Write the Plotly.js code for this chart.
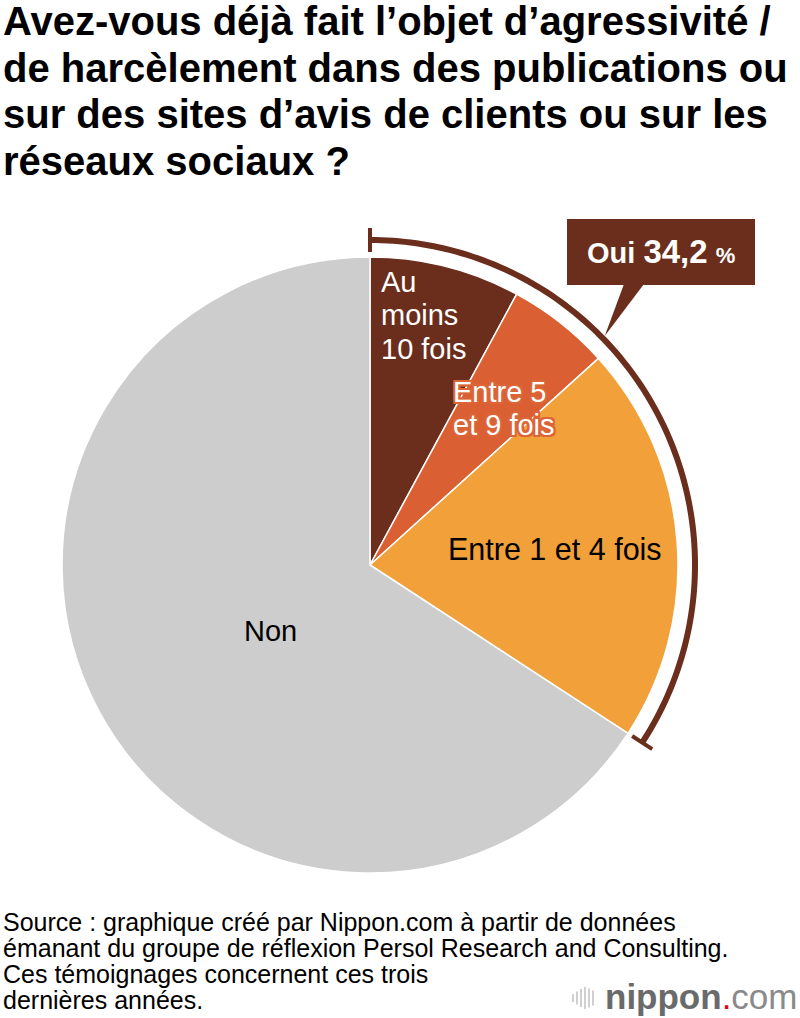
<!DOCTYPE html>
<html><head><meta charset="utf-8">
<script src="https://cdn.plot.ly/plotly-3.0.1.min.js"></script>
<style>html,body{margin:0;padding:0;background:#fff}</style>
</head><body><div id="chart" style="width:800px;height:1018px"></div>
<script>
// ---- data ----
const categories = ["Au moins 10 fois", "Entre 5 et 9 fois", "Entre 1 et 4 fois", "Non"];
const values = [7.9, 5.4, 20.9, 65.8];
const sliceColors = ["#6B2E1C", "#DA5F33", "#F1A03A", "#CDCDCD"];
const yesSlices = 3; // first three slices make up "Oui"
const yesLabel = "Oui";
const titleLines = [
  "Avez-vous déjà fait l’objet d’agressivité /",
  "de harcèlement dans des publications ou",
  "sur des sites d’avis de clients ou sur les",
  "réseaux sociaux ?"
];
const sourceLines = [
  "Source : graphique créé par Nippon.com à partir de données",
  "émanant du groupe de réflexion Persol Research and Consulting.",
  "Ces témoignages concernent ces trois",
  "dernières années."
];
const labelLines = [
  ["Au", "moins", "10 fois"],
  ["Entre 5", "et 9 fois"],
  ["Entre 1 et 4 fois"],
  ["Non"]
];

// ---- geometry / helpers ----
const W = 800, H = 1018, CX = 370, CY = 565, R = 308;
const px = x => x / W, py = y => 1 - y / H;
const FONT = "Liberation Sans, Arial, Helvetica, sans-serif";
const BROWN = "#6B2E1C";
const total = values.reduce((a, b) => a + b, 0);
const yesTotal = values.slice(0, yesSlices).reduce((a, b) => a + b, 0);
const yesAngle = yesTotal / total * 360;
function polar(r, deg) {
  const t = deg * Math.PI / 180;
  return [CX + r * Math.sin(t), CY - r * Math.cos(t)];
}
function pathFrom(pts, close) {
  return pts.map((p, i) => (i ? "L" : "M") + px(p[0]).toFixed(5) + "," + py(p[1]).toFixed(5)).join(" ") + (close ? " Z" : "");
}

const shapes = [];
// bracket arc around the "Oui" slices
const arcR = 325, arcPts = [];
for (let i = 0; i <= 120; i++) arcPts.push(polar(arcR, yesAngle * i / 120));
shapes.push({type: "path", xref: "paper", yref: "paper", path: pathFrom(arcPts), line: {color: BROWN, width: 6}});
[0, yesAngle].forEach(a => {
  shapes.push({type: "path", xref: "paper", yref: "paper",
    path: pathFrom([polar(arcR - 12, a), polar(arcR + 12, a)]), line: {color: BROWN, width: 4}});
});
// callout box + pointer
shapes.push({type: "rect", xref: "paper", yref: "paper", x0: px(567), x1: px(755), y0: py(285), y1: py(219),
  fillcolor: BROWN, line: {width: 0}});
const tip = polar(arcR + 3, 45.7);
shapes.push({type: "path", xref: "paper", yref: "paper",
  path: pathFrom([[624, 284], [644, 284], tip], true), fillcolor: BROWN, line: {width: 0}});
// logo bars
const barH = [8, 13, 18, 22, 19, 15];
barH.forEach((h, i) => {
  const x = 573 + i * 4;
  shapes.push({type: "line", xref: "paper", yref: "paper", x0: px(x), x1: px(x), y0: py(998 - h / 2), y1: py(998 + h / 2),
    line: {color: "#C4C4C4", width: 1.6}});
});

const ann = [];
function txt(text, x, y, size, opts) {
  ann.push(Object.assign({text: text, x: px(x), y: py(y), xref: "paper", yref: "paper", showarrow: false,
    xanchor: "left", yanchor: "middle", font: Object.assign({family: FONT, size: size, color: "#000"}, (opts && opts.font) || {})},
    opts && opts.a || {}));
}
const titleY = [21, 67.7, 114.3, 161];
titleLines.forEach((t, i) => txt("<b>" + t + "</b>", 1, titleY[i], 40));
const srcY = [922, 948, 974, 1000];
sourceLines.forEach((t, i) => txt(t, 1, srcY[i], 25));

// slice labels
[282, 315, 349].forEach((y, i) => txt(labelLines[0][i], 379, y, 29, {font: {color: "#fff"}}));
const sh = "#DC6537";
const outline = ["2px 0 0 " + sh, "-2px 0 0 " + sh, "0 2px 0 " + sh, "0 -2px 0 " + sh,
  "2px 2px 0 " + sh, "-2px -2px 0 " + sh, "2px -2px 0 " + sh, "-2px 2px 0 " + sh].join(", ");
[392, 425].forEach((y, i) => txt(labelLines[1][i], 451, y, 29, {font: {color: "#fff", shadow: outline}}));
txt(labelLines[2][0], 555, 549, 30.5, {a: {xanchor: "center"}});
txt(labelLines[3][0], 270, 631, 29, {a: {xanchor: "center"}});

// callout text
const yesStr = yesTotal.toFixed(1).replace(".", ",");
txt("<b>" + yesLabel + " <span style='font-size:33px'>" + yesStr + "</span> <span style='font-size:22px'>%</span></b>",
  661, 252, 29, {font: {color: "#fff"}, a: {xanchor: "center"}});

// logo
txt("<b>nippon</b><span style='color:#E60012'>.</span><span style='color:#8A8A8A'>com</span>", 603, 996, 35,
  {font: {color: "#6A6A6A"}});

const data = [{
  type: "pie",
  labels: categories,
  values: values,
  sort: false,
  direction: "clockwise",
  rotation: 0,
  textinfo: "none",
  hoverinfo: "label+value",
  marker: {colors: sliceColors, line: {color: "#fff", width: 1.5}},
  domain: {x: [px(CX - R), px(CX + R)], y: [py(CY + R), py(CY - R)]}
}];

const layout = {
  width: W, height: H,
  margin: {l: 0, r: 0, t: 0, b: 0, pad: 0},
  paper_bgcolor: "#fff", plot_bgcolor: "#fff",
  showlegend: false,
  shapes: shapes,
  annotations: ann
};
Plotly.newPlot("chart", data, layout, {displayModeBar: false, staticPlot: true});
</script></body></html>
